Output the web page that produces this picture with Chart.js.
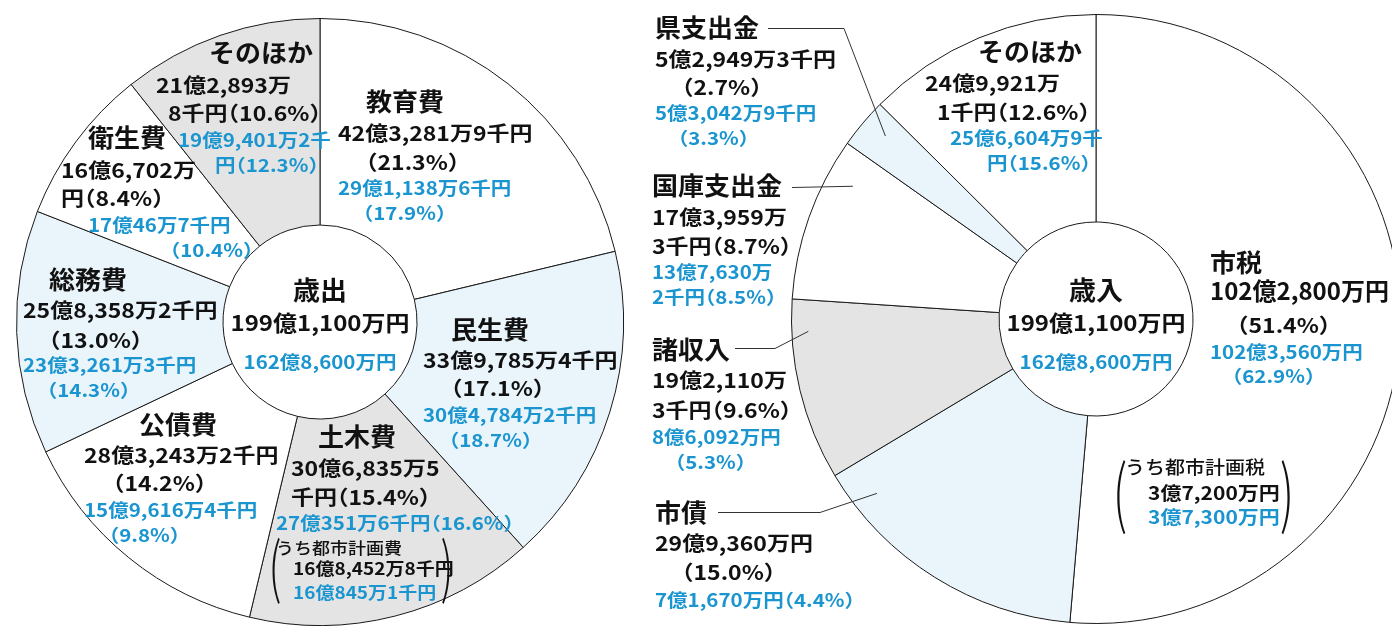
<!DOCTYPE html>
<html><head><meta charset="utf-8">
<script src="https://cdn.jsdelivr.net/npm/chart.js@4.4.1/dist/chart.umd.min.js"></script>
<style>
html,body{margin:0;padding:0;background:#fff;}
#wrap{position:relative;width:1392px;height:626px;overflow:hidden;background:#fff;}
canvas{position:absolute;left:0;top:0;}
</style></head><body>
<div id="wrap">
<canvas id="c1" width="1420" height="626"></canvas>
<canvas id="c2" width="1420" height="626"></canvas>
</div>
<script>
// ===== Data: 歳出 (expenditure), amounts in 千円 =====
const expCategories = ['教育費','民生費','土木費','公債費','総務費','衛生費','そのほか'];
const expAmounts     = [4232819, 3397854, 3068355, 2832432, 2583582, 1667020, 2128938];
const expPrevAmounts = [2911386, 3047842, 2703516, 1596164, 2332613, 1700467, 1994012];
const expAmountLines = [
  ['42億3,281万9千円','（21.3%）'],
  ['33億9,785万4千円','（17.1%）'],
  ['30億6,835万5','千円（15.4%）'],
  ['28億3,243万2千円','（14.2%）'],
  ['25億8,358万2千円','（13.0%）'],
  ['16億6,702万','円（8.4%）'],
  ['21億2,893万','8千円（10.6%）']
];
const expPrevLines = [
  ['29億1,138万6千円','（17.9%）'],
  ['30億4,784万2千円','（18.7%）'],
  ['27億351万6千円（16.6%）'],
  ['15億9,616万4千円','（9.8%）'],
  ['23億3,261万3千円','（14.3%）'],
  ['17億46万7千円','（10.4%）'],
  ['19億9,401万2千','円（12.3%）']
];
const expCenter = ['歳出','199億1,100万円','162億8,600万円'];
const expSub = ['うち都市計画費','16億8,452万8千円','16億845万1千円'];

// ===== Data: 歳入 (revenue), amounts in 千円 =====
const revCategories = ['市税','市債','諸収入','国庫支出金','県支出金','そのほか'];
const revAmounts     = [10228000, 2993600, 1921103, 1739593, 529493, 2499211];
const revPrevAmounts = [10235600, 716700, 860920, 1376302, 530429, 2566049];
const revAmountLines = [
  ['102億2,800万円','（51.4%）'],
  ['29億9,360万円','（15.0%）'],
  ['19億2,110万','3千円（9.6%）'],
  ['17億3,959万','3千円（8.7%）'],
  ['5億2,949万3千円','（2.7%）'],
  ['24億9,921万','1千円（12.6%）']
];
const revPrevLines = [
  ['102億3,560万円','（62.9%）'],
  ['7億1,670万円（4.4%）'],
  ['8億6,092万円','（5.3%）'],
  ['13億7,630万','2千円（8.5%）'],
  ['5億3,042万9千円','（3.3%）'],
  ['25億6,604万9千','円（15.6%）']
];
const revCenter = ['歳入','199億1,100万円','162億8,600万円'];
const revSub = ['うち都市計画税','3億7,200万円','3億7,300万円'];

// ===== Styles / layout =====
const WHITE='#ffffff', LBLUE='#e9f4fb', GREY='#e4e4e4';
const BLUE_TXT='#1a95cf', BLACK_TXT='#111111';
const FONT='"Noto Sans CJK JP","Noto Sans",sans-serif';
const expColors=[WHITE,LBLUE,GREY,WHITE,LBLUE,WHITE,GREY];
const revColors=[WHITE,LBLUE,GREY,WHITE,LBLUE,WHITE];

// layout: title pos, black line pos list, blue line pos list  (x = left ink edge, y = center)
const expLayout=[
  {t:[366,102], b:[[338,133],[366,162]], p:[[338,188],[363,213]]},
  {t:[451,330], b:[[423,360],[451,388]], p:[[423,415],[449,440]]},
  {t:[318,437], b:[[291,468],[291,497]], p:[[276,523]]},
  {t:[139,425], b:[[84,455],[113,483]],  p:[[84,510],[109,535]]},
  {t:[49,280],  b:[[23,310],[49,340]],   p:[[23,365],[47,390]]},
  {t:[88,138],  b:[[61,170],[61,198]],   p:[[88,225],[170,250]]},
  {t:[209,53],  b:[[156,85],[168,113]],  p:[[178,140],[215,165]]}
];
const revLayout=[
  {t:[1210,263], b:[[1210,291],[1237,325]], p:[[1210,352],[1232,376]], big:[24,1.0]},
  {t:[655,513],  b:[[655,543],[682,572]],   p:[[655,600]]},
  {t:[652,350],  b:[[652,380],[652,410]],   p:[[652,437],[675,462]]},
  {t:[652,186],  b:[[652,217],[652,246]],   p:[[652,272],[652,297]]},
  {t:[655,28],   b:[[655,59],[682,87]],     p:[[655,113],[678,138]]},
  {t:[978,52],   b:[[925,83],[937,112]],    p:[[950,138],[987,163]]}
];
// leader lines for revenue labels: index, start, elbow, fraction within arc, radius
const revLeaders=[
  {i:4, pts:[[768,28],[844,28]], f:0.6, r:279},
  {i:3, pts:[[792,187]], f:0.79, r:277},
  {i:2, pts:[[735,348],[775,348]], f:0.82, r:288},
  {i:1, pts:[[718,512],[820,512]], f:0.86, r:280}
];

// draw text with proportional (half-width advance) full-width brackets
function richWidth(ctx, s, size){
  let w=0, run='';
  for(const ch of s){
    if(ch==='（'||ch==='）'){ if(run){w+=ctx.measureText(run).width; run='';} w+=0.5*size; }
    else run+=ch;
  }
  if(run) w+=ctx.measureText(run).width;
  return w;
}
function richDraw(ctx, s, x0, size){
  let cur=x0, run='';
  const flush=()=>{ if(run){ ctx.fillText(run, cur, 0); cur+=ctx.measureText(run).width; run=''; } };
  for(const ch of s){
    if(ch==='（'){ flush(); ctx.fillText(ch, cur-0.5*size, 0); cur+=0.5*size; }
    else if(ch==='）'){ flush(); ctx.fillText(ch, cur, 0); cur+=0.5*size; }
    else run+=ch;
  }
  flush();
}
function txt(ctx, s, x, y, size, weight, color, sy, align){
  ctx.save();
  ctx.font = weight+' '+size+'px '+FONT;
  ctx.fillStyle = color;
  ctx.textBaseline = 'middle';
  ctx.textAlign = 'left';
  ctx.translate(x, y);
  ctx.scale(1, sy);
  let x0 = 0;
  if(align==='center') x0 = -richWidth(ctx, s, size)/2;
  richDraw(ctx, s, x0, size);
  ctx.restore();
}
function bigParen(ctx, s, x, y, size){
  ctx.save();
  ctx.font = '200 '+size+'px '+FONT;
  ctx.fillStyle = '#111';
  ctx.textBaseline = 'middle';
  ctx.textAlign = 'center';
  ctx.translate(x, y);
  ctx.scale(0.6, 1);
  ctx.fillText(s, 0, 0);
  ctx.restore();
}
function drawLabels(ctx, names, lines, prev, layout, sizes){
  names.forEach((n,i)=>{
    const L = layout[i];
    txt(ctx, n, L.t[0], L.t[1], sizes.title, 700, BLACK_TXT, 0.95);
    lines[i].forEach((s,k)=>{
      const big = (k===0 && L.big);
      txt(ctx, s, L.b[k][0], L.b[k][1], big?L.big[0]:sizes.val, 700, BLACK_TXT, big?L.big[1]:0.88);
    });
    prev[i].forEach((s,k)=>txt(ctx, s, L.p[k][0], L.p[k][1], sizes.prev, 700, BLUE_TXT, 0.88));
  });
}
function drawCenter(ctx, cx, c){
  txt(ctx, c[0], cx, 290, 27, 700, BLACK_TXT, 0.95, 'center');
  txt(ctx, c[1], cx, 323, 24, 700, BLACK_TXT, 0.9, 'center');
  txt(ctx, c[2], cx, 362, 20.5, 700, BLUE_TXT, 0.88, 'center');
}

const expPlugin={id:'expLabels', afterDraw(chart){
  const ctx=chart.ctx;
  drawLabels(ctx, expCategories, expAmountLines, expPrevLines, expLayout, {title:26, val:23, prev:20.5});
  const meta=chart.getDatasetMeta(0);
  const cx=meta.data[0].x;
  drawCenter(ctx, cx, expCenter);
  txt(ctx, expSub[0], 276, 548, 18, 500, BLACK_TXT, 0.9);
  txt(ctx, expSub[1], 293, 569, 19, 700, BLACK_TXT, 0.88);
  txt(ctx, expSub[2], 293, 593, 19, 700, BLUE_TXT, 0.88);
  bigParen(ctx, '(', 275, 566, 66);
  bigParen(ctx, ')', 447, 566, 66);
}};
const revPlugin={id:'revLabels', afterDraw(chart){
  const ctx=chart.ctx;
  const meta=chart.getDatasetMeta(0);
  const cx=meta.data[0].x, cy=meta.data[0].y;
  // leader lines
  ctx.save();
  ctx.strokeStyle='#333'; ctx.lineWidth=1;
  revLeaders.forEach(ld=>{
    const a=meta.data[ld.i];
    const ang=a.startAngle+(a.endAngle-a.startAngle)*ld.f;
    const ex=cx+ld.r*Math.cos(ang), ey=cy+ld.r*Math.sin(ang);
    ctx.beginPath();
    ctx.moveTo(ld.pts[0][0], ld.pts[0][1]+0.5);
    for(let k=1;k<ld.pts.length;k++) ctx.lineTo(ld.pts[k][0], ld.pts[k][1]+0.5);
    ctx.lineTo(ex, ey);
    ctx.stroke();
  });
  ctx.restore();
  drawLabels(ctx, revCategories, revAmountLines, revPrevLines, revLayout, {title:26, val:23, prev:20.5});
  drawCenter(ctx, cx, revCenter);
  txt(ctx, revSub[0], 1125, 467, 20, 500, BLACK_TXT, 0.9);
  txt(ctx, revSub[1], 1148, 493, 21, 700, BLACK_TXT, 0.88);
  txt(ctx, revSub[2], 1148, 517, 21, 700, BLUE_TXT, 0.88);
  bigParen(ctx, '(', 1120, 492, 74);
  bigParen(ctx, ')', 1287, 492, 74);
}};

function makeChart(id, labels, values, colors, pad, plugin){
  return new Chart(document.getElementById(id), {
    type:'doughnut',
    data:{labels:labels, datasets:[{data:values, backgroundColor:colors, borderColor:'#1a1a1a', borderWidth:1, hoverOffset:0}]},
    options:{
      responsive:false, maintainAspectRatio:false, animation:false, events:[], devicePixelRatio:1,
      cutout:97, layout:{padding:pad},
      plugins:{legend:{display:false}, tooltip:{enabled:false}}
    },
    plugins:[plugin]
  });
}
makeChart('c1', expCategories, expAmounts, expColors, {left:16, top:18, right:796, bottom:0}, expPlugin);
makeChart('c2', revCategories, revAmounts, revColors, {left:791, top:14, right:19, bottom:2}, revPlugin);
</script>
</body></html>
